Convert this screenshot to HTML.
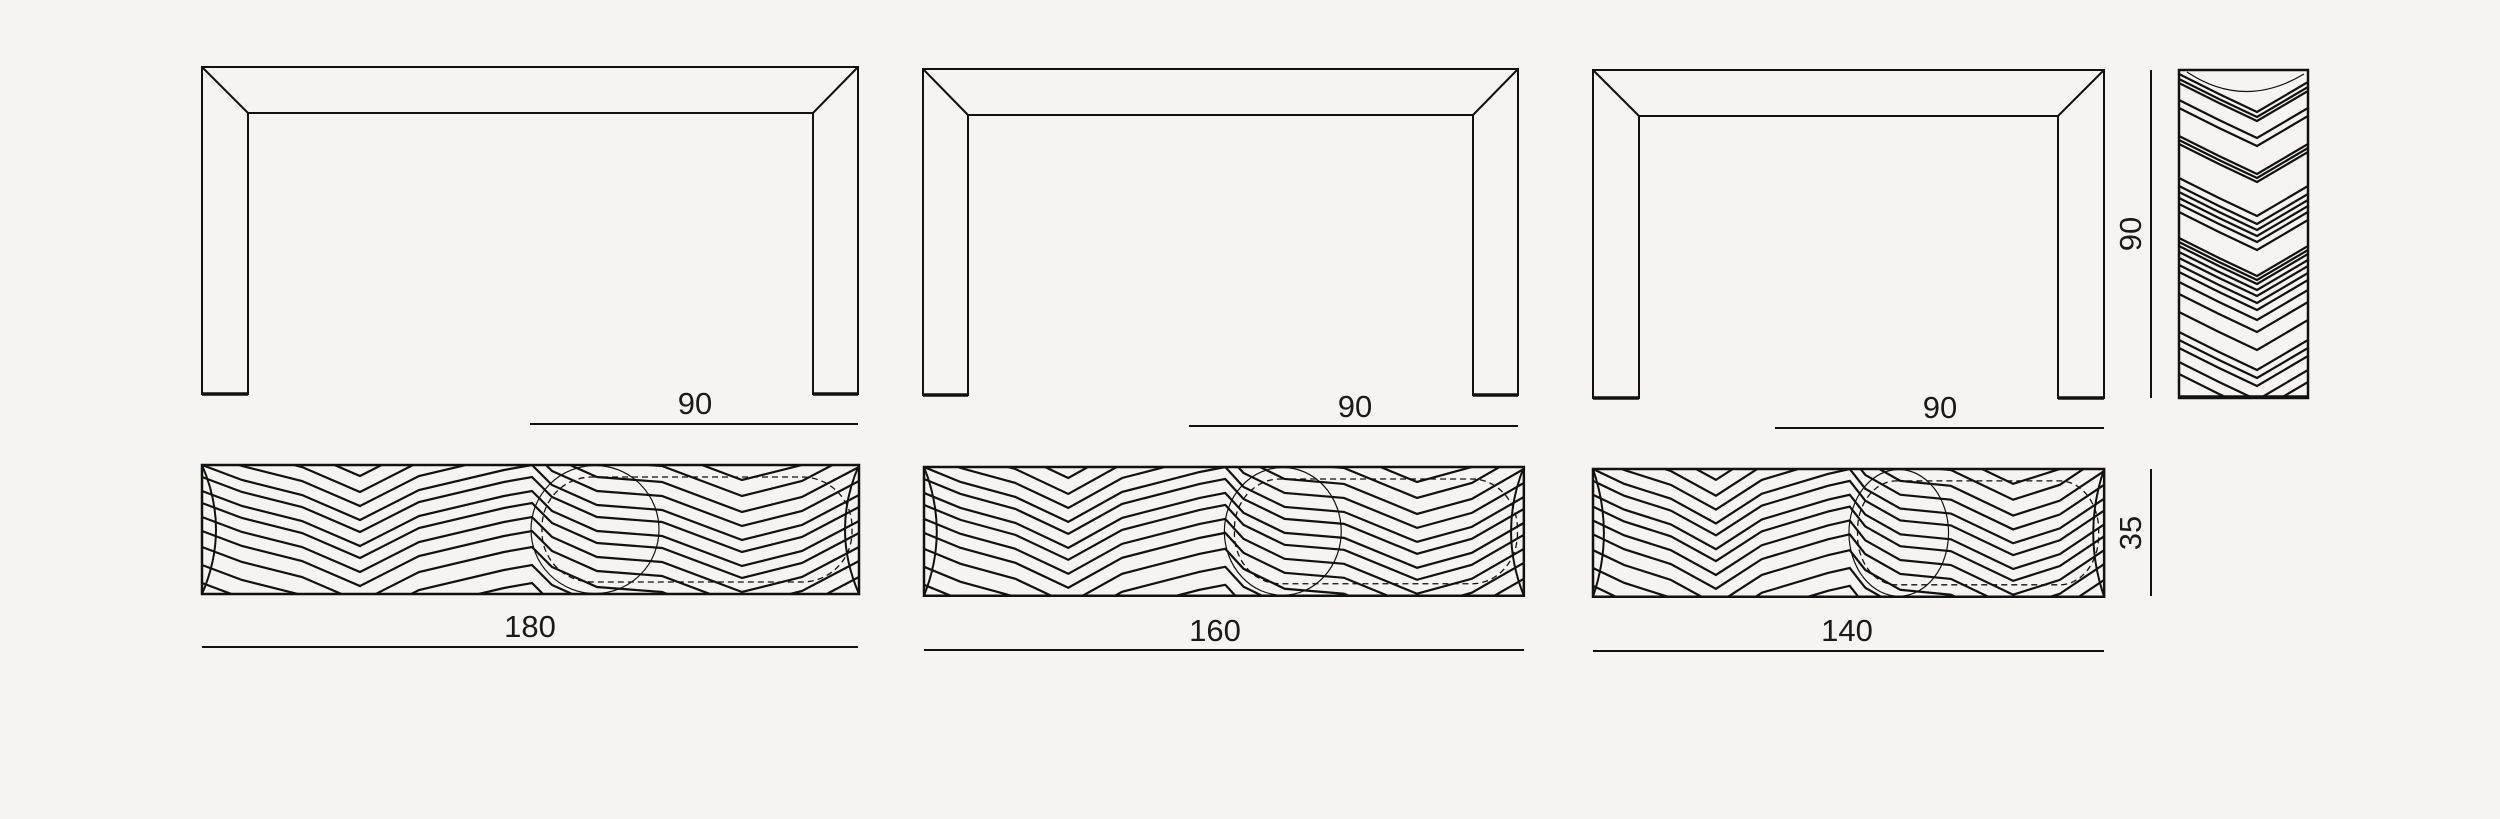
<!DOCTYPE html>
<html><head><meta charset="utf-8"><style>
html,body{margin:0;padding:0;background:#f6f4f2;}
svg{display:block}
text{font-family:"Liberation Sans",sans-serif;font-size:31px;fill:#1a1a1a}
</style></head><body>
<svg width="2500" height="819" viewBox="0 0 2500 819" xmlns="http://www.w3.org/2000/svg">
<defs>
<clipPath id="bc"><rect x="0" y="0" width="657" height="129"/></clipPath>
<clipPath id="sc"><rect x="0" y="0" width="129" height="328"/></clipPath>
<path id="gl" d="M0,0 L40,15 L100,30 L158,55 L217,25 L302,5 L330,0 L350,20 L395,40 L460,45 L540,75 L600,60 L657,30" fill="none" stroke="#111" stroke-width="2.2" vector-effect="non-scaling-stroke"/>
<path id="cl" d="M0,0 L40,20 L78,38 L129,8" fill="none" stroke="#111" stroke-width="2.2"/>
<g id="bench">
 <g clip-path="url(#bc)">
  <use href="#gl" y="-60"/><use href="#gl" y="-44"/><use href="#gl" y="-28"/>
  <use href="#gl" y="-14"/><use href="#gl" y="0"/><use href="#gl" y="12"/>
  <use href="#gl" y="26"/><use href="#gl" y="38"/><use href="#gl" y="52"/>
  <use href="#gl" y="66"/><use href="#gl" y="82"/><use href="#gl" y="100"/>
  <use href="#gl" y="118"/>
 </g>
 <path d="M0,0 Q28,64.5 0,129 M657,0 Q629,64.5 657,129" fill="none" stroke="#111" stroke-width="2" vector-effect="non-scaling-stroke"/>
 <circle cx="393" cy="64.5" r="64" fill="none" stroke="#111" stroke-width="1.2" vector-effect="non-scaling-stroke"/>
 <rect x="340" y="12" width="310" height="105" rx="50" fill="none" stroke="#111" stroke-width="1.3" stroke-dasharray="6 4" vector-effect="non-scaling-stroke"/>
 <rect x="0" y="0" width="657" height="129" fill="none" stroke="#111" stroke-width="2.5" vector-effect="non-scaling-stroke"/>
</g>
</defs>
<g fill="none" stroke="#111" stroke-width="2">
 <path d="M202,394 V67 H858 V394 H813 V113 H248 V394 Z M202,67 L248,113 M858,67 L813,113"/>
 <path d="M202,394 H248 M813,394 H858" stroke-width="3.5"/>
 <line x1="530" y1="424" x2="858" y2="424"/>
 <line x1="202" y1="647" x2="858" y2="647"/>
 <path d="M923,395 V69 H1518 V395 H1473 V115 H968 V395 Z M923,69 L968,115 M1518,69 L1473,115"/>
 <path d="M923,395 H968 M1473,395 H1518" stroke-width="3.5"/>
 <line x1="1189" y1="426" x2="1518" y2="426"/>
 <line x1="924" y1="650" x2="1524" y2="650"/>
 <path d="M1593,398 V70 H2104 V398 H2058 V116 H1639 V398 Z M1593,70 L1639,116 M2104,70 L2058,116"/>
 <path d="M1593,398 H1639 M2058,398 H2104" stroke-width="3.5"/>
 <line x1="1775" y1="428" x2="2104" y2="428"/>
 <line x1="1593" y1="651" x2="2104" y2="651"/>
 <line x1="2151" y1="70" x2="2151" y2="398"/>
 <line x1="2151" y1="469" x2="2151" y2="596"/>
</g>
<use href="#bench" transform="translate(202,465)"/>
<use href="#bench" transform="translate(924,467) scale(0.913,0.998)"/>
<use href="#bench" transform="translate(1593,469) scale(0.778,0.99)"/>
<g transform="translate(2179,70)">
 <g clip-path="url(#sc)">
  <path d="M8,2 Q65,40 125,4" fill="none" stroke="#111" stroke-width="1.2"/>
  <use href="#cl" y="4"/><use href="#cl" y="9"/><use href="#cl" y="13"/><use href="#cl" y="30"/><use href="#cl" y="38"/>
  <use href="#cl" y="66"/><use href="#cl" y="70"/><use href="#cl" y="74"/>
  <use href="#cl" y="108"/><use href="#cl" y="116"/><use href="#cl" y="122"/><use href="#cl" y="128"/><use href="#cl" y="134"/><use href="#cl" y="142"/>
  <use href="#cl" y="168"/><use href="#cl" y="172"/><use href="#cl" y="176"/><use href="#cl" y="182"/><use href="#cl" y="188"/><use href="#cl" y="195"/><use href="#cl" y="202"/><use href="#cl" y="212"/><use href="#cl" y="224"/>
  <use href="#cl" y="242"/><use href="#cl" y="262"/><use href="#cl" y="270"/><use href="#cl" y="278"/><use href="#cl" y="292"/><use href="#cl" y="304"/>
 </g>
 <rect x="0" y="0" width="129" height="328" fill="none" stroke="#111" stroke-width="2.5"/>
 <line x1="0" y1="327" x2="129" y2="327" stroke="#111" stroke-width="3.5"/>
</g>
<text x="695" y="414" text-anchor="middle">90</text>
<text x="1355" y="417" text-anchor="middle">90</text>
<text x="1940" y="418" text-anchor="middle">90</text>
<text x="530" y="637" text-anchor="middle">180</text>
<text x="1215" y="641" text-anchor="middle">160</text>
<text x="1847" y="641" text-anchor="middle">140</text>
<text transform="translate(2141,234) rotate(-90)" text-anchor="middle">90</text>
<text transform="translate(2141,533) rotate(-90)" text-anchor="middle">35</text>
</svg>
</body></html>
